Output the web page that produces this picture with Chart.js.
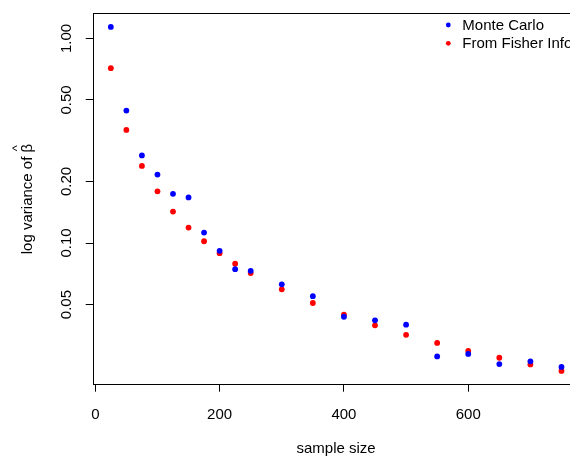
<!DOCTYPE html>
<html>
<head>
<meta charset="utf-8">
<script src="https://cdn.jsdelivr.net/npm/chart.js@4/dist/chart.umd.min.js"></script>
<style>
  html, body { margin: 0; padding: 0; overflow: hidden; background: #fff; }
  #plot { display: block; }
</style>
</head>
<body>
<canvas id="plot" width="600" height="459" style="width:600px;height:459px"></canvas>
<script>
// values (log-scale y)
const sampleSize = [25, 50, 75, 100, 125, 150, 175, 200, 225, 250, 300, 350, 400, 450, 500, 550, 600, 650, 700, 750];
const monteCarlo = [1.138, 0.444, 0.268, 0.216, 0.174, 0.167, 0.1125, 0.0916, 0.0745, 0.0731, 0.0628, 0.0550, 0.0436, 0.0419, 0.0399, 0.0279, 0.0287, 0.0256, 0.0264, 0.0248];
const fisherInfo = [0.715, 0.357, 0.238, 0.179, 0.1425, 0.119, 0.102, 0.0892, 0.0792, 0.0713, 0.0594, 0.0509, 0.0446, 0.0396, 0.0356, 0.0325, 0.0297, 0.0275, 0.0255, 0.0237];
const seriesNames = ['Monte Carlo', 'From Fisher Info'];
const seriesColors = ['#0000ff', '#ff0000'];
const xTicks = [0, 200, 400, 600];
const yTicks = [0.05, 0.1, 0.2, 0.5, 1];

const FONT = "'Liberation Sans', Arial, Helvetica, sans-serif";
const Y_TITLE = 'log variance of \u03B2';
const Y_TITLE_PAD = 19;

const toPoints = ys => sampleSize.map((x, i) => ({ x, y: ys[i] }));

// R style: full box round the plot region, hat over beta, legend top right
const rBox = {
    id: 'rBox',
    afterDraw(chart) {
        const { ctx, chartArea: a } = chart;
        ctx.save();
        ctx.strokeStyle = '#000';
        ctx.lineWidth = 1;
        ctx.strokeRect(Math.round(a.left) + 0.5, Math.round(a.top) + 0.5,
            Math.round(a.right - a.left), Math.round(a.bottom - a.top));

        // the hat on beta in the y title
        ctx.font = '15px ' + FONT;
        const w = ctx.measureText(Y_TITLE).width;
        const wb = ctx.measureText('\u03B2').width;
        const ys = chart.scales.y;
        ctx.save();
        ctx.translate(ys.left + Y_TITLE_PAD + 9, (a.top + a.bottom) / 2);
        ctx.rotate(-Math.PI / 2);
        ctx.font = '13px ' + FONT;
        ctx.fillStyle = '#000';
        ctx.textAlign = 'center';
        ctx.textBaseline = 'alphabetic';
        ctx.fillText('^', w / 2 - wb / 2, -7);
        ctx.restore();

        ctx.font = '15px ' + FONT;
        ctx.textBaseline = 'middle';
        ctx.textAlign = 'left';
        chart.data.datasets.forEach((ds, i) => {
            const y = 25 + i * 18.3;
            ctx.fillStyle = ds.backgroundColor;
            ctx.beginPath();
            ctx.arc(448.3, y, 2.4, 0, Math.PI * 2);
            ctx.fill();
            ctx.fillStyle = '#000';
            ctx.fillText(ds.label, 462.3, y + 0.5);
        });
        ctx.restore();
    }
};

const ctx = document.getElementById('plot').getContext('2d');
new Chart(ctx, {
    type: 'scatter',
    data: {
        datasets: [
            { label: seriesNames[0], data: toPoints(monteCarlo), backgroundColor: seriesColors[0] },
            { label: seriesNames[1], data: toPoints(fisherInfo), backgroundColor: seriesColors[1] }
        ]
    },
    options: {
        responsive: false,
        animation: false,
        devicePixelRatio: 1,
        layout: { padding: { top: 7.3, right: 20.5, bottom: 0, left: 0 } },
        elements: { point: { radius: 2.9, borderWidth: 0, hoverRadius: 2.9 } },
        plugins: { legend: { display: false }, tooltip: { enabled: false } },
        scales: {
            x: {
                type: 'linear',
                min: -4.18,
                max: 779,
                afterBuildTicks: s => { s.ticks = xTicks.map(v => ({ value: v })); },
                afterFit: s => { s.height = 74.3; },
                border: { display: false },
                grid: { drawOnChartArea: false, drawTicks: true, tickLength: 7, color: '#000' },
                ticks: {
                    color: '#000', font: { family: FONT, size: 15 }, padding: 14,
                    maxRotation: 0, autoSkip: false,
                    callback: v => String(v)
                },
                title: {
                    display: true, text: 'sample size', color: '#000',
                    font: { family: FONT, size: 15 }, padding: { top: 0, bottom: 1 }
                }
            },
            y: {
                type: 'logarithmic',
                min: 0.0203,
                max: 1.325,
                afterBuildTicks: s => { s.ticks = yTicks.map(v => ({ value: v })); },
                afterFit: s => { s.width = 92.7; },
                border: { display: false },
                grid: { drawOnChartArea: false, drawTicks: true, tickLength: 7, color: '#000' },
                ticks: {
                    color: '#000', font: { family: FONT, size: 15 }, padding: 4.4,
                    minRotation: 90, maxRotation: 90, crossAlign: 'center', autoSkip: false,
                    callback: v => Number(v).toFixed(2)
                },
                title: {
                    display: true, text: Y_TITLE, color: '#000',
                    font: { family: FONT, size: 15 }, padding: { top: Y_TITLE_PAD, bottom: 0 }
                }
            }
        }
    },
    plugins: [rBox]
});
</script>
</body>
</html>
